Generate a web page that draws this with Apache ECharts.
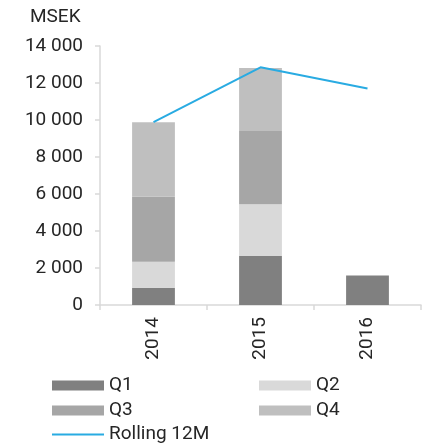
<!DOCTYPE html>
<html>
<head>
<meta charset="utf-8">
<script src="https://cdn.jsdelivr.net/npm/echarts@6/dist/echarts.min.js"></script>
<style>
  html, body { margin: 0; padding: 0; background: #fff; }
  #chart { width: 438px; height: 445px; }
</style>
</head>
<body>
<div id="chart"></div>
<script>
const years = ['2014', '2015', '2016'];
const q1 = [930, 2650, 1600];
const q2 = [1410, 2790, null];
const q3 = [3510, 3960, null];
const q4 = [4030, 3410, null];
const rolling12m = [9880, 12850, 11700];
const yTicks = { min: 0, max: 14000, interval: 2000 };

const FONT = 'Roboto, "Liberation Sans", sans-serif';
const AXIS_GRAY = '#d9d9d9';
const TEXT = '#262626';
const LINE_BLUE = '#29abe2';

function formatThousands(value) {
  return String(value).replace(/\B(?=(\d{3})+(?!\d))/g, ' ');
}

function barSeries(name, data, color) {
  return {
    name,
    type: 'bar',
    stack: 'total',
    barWidth: '40%',
    data,
    itemStyle: { color },
    emphasis: { disabled: true }
  };
}

function legendAt(name, left, top, isLine) {
  return {
    data: [name],
    left,
    top,
    icon: isLine ? 'path://M0,0 L52,0 L52,2 L0,2 Z' : 'rect',
    itemWidth: 52,
    itemHeight: isLine ? 2 : 10,
    itemGap: 0,
    padding: 0,
    textStyle: { fontFamily: FONT, fontSize: 19, color: TEXT, padding: [0, 0, 0, 0] }
  };
}

const chart = echarts.init(document.getElementById('chart'), null, { renderer: 'canvas' });

chart.setOption({
  animation: false,
  title: {
    text: 'MSEK',
    left: 30,
    top: 8,
    padding: 0,
    textStyle: { fontFamily: FONT, fontSize: 19, fontWeight: 'normal', color: TEXT }
  },
  grid: { left: 100, right: 17, top: 46, bottom: 140 },
  legend: [
    legendAt('Q1', 52, 376),
    legendAt('Q2', 259, 376),
    legendAt('Q3', 52, 401),
    legendAt('Q4', 259, 401),
    legendAt('Rolling 12M', 52, 425, true)
  ],
  xAxis: {
    type: 'category',
    data: years,
    axisLine: { lineStyle: { color: AXIS_GRAY, width: 1.5 } },
    axisTick: { show: true, length: 5, lineStyle: { color: AXIS_GRAY, width: 1.5 } },
    axisLabel: {
      rotate: 90,
      margin: 12,
      fontFamily: FONT,
      fontSize: 19,
      color: TEXT
    }
  },
  yAxis: {
    type: 'value',
    min: yTicks.min,
    max: yTicks.max,
    interval: yTicks.interval,
    axisLine: { show: true, lineStyle: { color: AXIS_GRAY, width: 1.5 } },
    axisTick: { show: true, length: 5, lineStyle: { color: AXIS_GRAY, width: 1.5 } },
    splitLine: { show: false },
    axisLabel: {
      margin: 17,
      fontFamily: FONT,
      fontSize: 19,
      color: TEXT,
      formatter: formatThousands
    }
  },
  series: [
    barSeries('Q1', q1, '#808080'),
    barSeries('Q2', q2, '#d9d9d9'),
    barSeries('Q3', q3, '#a6a6a6'),
    barSeries('Q4', q4, '#bfbfbf'),
    {
      name: 'Rolling 12M',
      type: 'line',
      data: rolling12m,
      symbol: 'none',
      z: 5,
      lineStyle: { color: LINE_BLUE, width: 2 },
      itemStyle: { color: LINE_BLUE }
    }
  ]
});
</script>
</body>
</html>
